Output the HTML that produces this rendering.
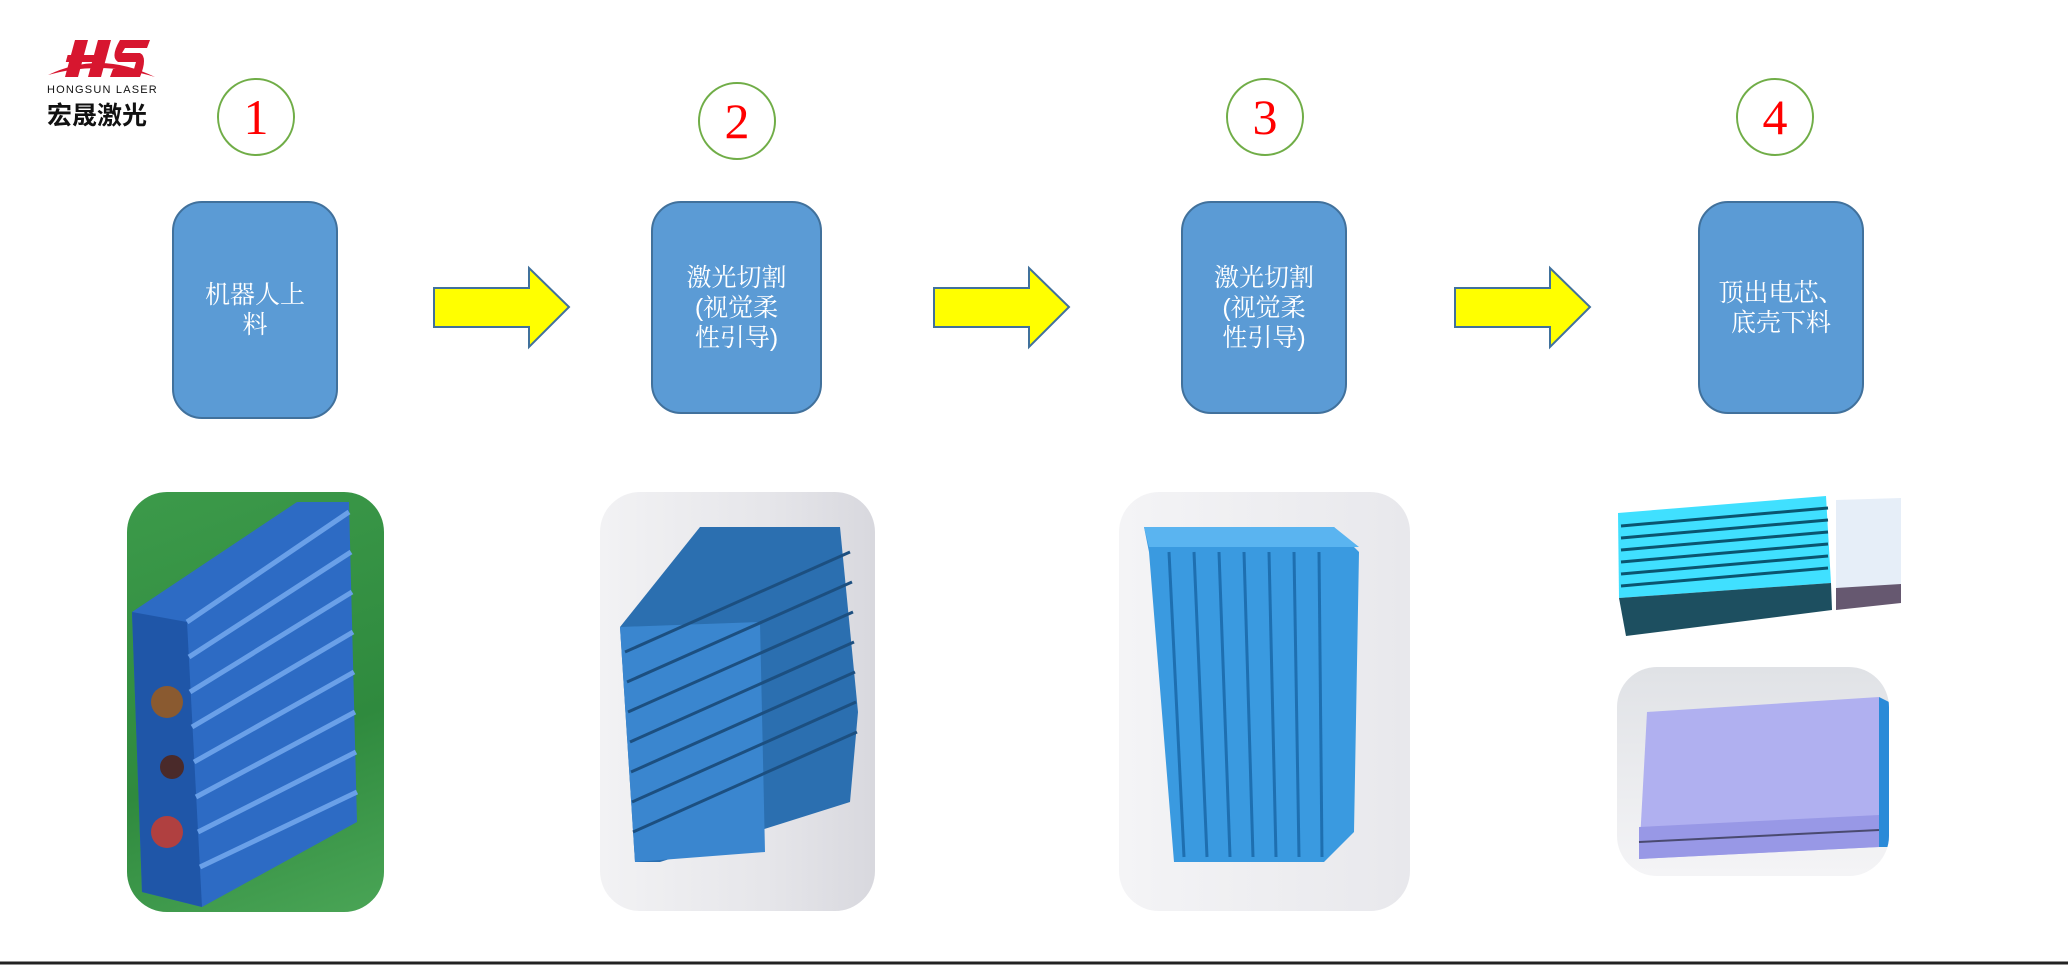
<!DOCTYPE html>
<html><head><meta charset="utf-8"><style>
body{margin:0;width:2068px;height:965px;background:#fff;position:relative;overflow:hidden;font-family:"Liberation Sans","Noto Sans CJK SC",sans-serif}
.c{position:absolute;width:74px;height:74px;border:2px solid #70ad47;border-radius:50%;color:#f00;font-family:"Liberation Serif",serif;font-size:50px;line-height:74px;text-align:center}
.b{position:absolute;background:#5b9bd5;border:2px solid #41719c;border-radius:30px;color:#fff;font-family:"Liberation Sans","Noto Serif CJK SC",serif;font-size:25px;line-height:30px;display:flex;align-items:center;justify-content:center;text-align:center;box-sizing:border-box}
svg{position:absolute}
.img{position:absolute;border-radius:40px;overflow:hidden}
</style></head><body>
<svg style="left:40px;top:35px" width="130" height="100">
<path d="M8 40 Q60 15 115 42 Q60 25 8 40Z" fill="#d7162f"/>
<polygon points="35,5 48,5 38,42 25,42" fill="#d7162f"/>
<polygon points="58,5 71,5 61,42 48,42" fill="#d7162f"/>
<rect x="33" y="20" width="30" height="7" fill="#d7162f" transform="skewX(-15)"/>
<path d="M80 5 H110 L107 13 H85 L82 18 H100 Q108 22 100 42 H70 L73 34 H94 L96 27 H78 Q70 22 80 5Z" fill="#d7162f"/>
<text x="7" y="58" font-size="11" font-family="Liberation Sans" letter-spacing="1.2" fill="#111">HONGSUN LASER</text>
<text x="7" y="89" font-size="25" font-weight="bold" font-family="Noto Sans CJK SC,sans-serif" fill="#111">宏晟激光</text>
</svg>
<div class="c" style="left:217px;top:78px">1</div>
<div class="c" style="left:698px;top:82px">2</div>
<div class="c" style="left:1226px;top:78px">3</div>
<div class="c" style="left:1736px;top:78px">4</div>
<div class="b" style="left:172px;top:201px;width:166px;height:218px">机器人上<br>料</div>
<div class="b" style="left:651px;top:201px;width:171px;height:213px">激光切割<br>(视觉柔<br>性引导)</div>
<div class="b" style="left:1181px;top:201px;width:166px;height:213px">激光切割<br>(视觉柔<br>性引导)</div>
<div class="b" style="left:1698px;top:201px;width:166px;height:213px">顶出电芯、<br>底壳下料</div>
<svg style="left:0;top:0" width="2068" height="965">
<g fill="#ffff00" stroke="#41719c" stroke-width="2">
<polygon points="434,288 529,288 529,268 569,307 529,347 529,327 434,327"/>
<polygon points="934,288 1029,288 1029,268 1069,307 1029,347 1029,327 934,327"/>
<polygon points="1455,288 1550,288 1550,268 1590,307 1550,347 1550,327 1455,327"/>
</g>
<line x1="0" y1="963" x2="2068" y2="963" stroke="#222" stroke-width="3"/>
</svg>
<div class="img" style="left:127px;top:492px;width:257px;height:420px;background:linear-gradient(160deg,#3c9a4a,#2f8a3e 60%,#4aa556)">
<svg width="257" height="420"><polygon points="5,120 170,10 222,10 230,330 75,415 15,400" fill="#2d6bc4"/><polygon points="5,120 60,130 75,415 15,400" fill="#1f56a8"/><g stroke="#6aa0e8" stroke-width="5">
<line x1="60" y1="130" x2="222" y2="20"/><line x1="62" y1="165" x2="224" y2="60"/><line x1="63" y1="200" x2="225" y2="100"/><line x1="65" y1="235" x2="226" y2="140"/><line x1="67" y1="270" x2="227" y2="180"/><line x1="69" y1="305" x2="228" y2="220"/><line x1="71" y1="340" x2="229" y2="260"/><line x1="73" y1="375" x2="230" y2="300"/></g>
<circle cx="40" cy="210" r="16" fill="#8a5a30"/><circle cx="40" cy="340" r="16" fill="#b04040"/><circle cx="45" cy="275" r="12" fill="#4a2a2a"/></svg></div>
<div class="img" style="left:600px;top:492px;width:275px;height:419px;background:linear-gradient(90deg,#f2f2f4,#e6e6ea 60%,#d8d8de)">
<svg width="275" height="419"><polygon points="20,135 100,35 240,35 258,220 250,310 60,370 35,370" fill="#2b6fb0"/><polygon points="20,135 160,130 165,360 35,370" fill="#3a86cf"/><g stroke="#1c4f80" stroke-width="3">
<line x1="25" y1="160" x2="250" y2="60"/><line x1="27" y1="190" x2="252" y2="90"/><line x1="28" y1="220" x2="253" y2="120"/><line x1="30" y1="250" x2="254" y2="150"/><line x1="31" y1="280" x2="255" y2="180"/><line x1="32" y1="310" x2="256" y2="210"/><line x1="33" y1="340" x2="257" y2="240"/></g></svg></div>
<div class="img" style="left:1119px;top:492px;width:291px;height:419px;background:linear-gradient(90deg,#f4f4f6,#e8e8ec)">
<svg width="291" height="419"><polygon points="25,35 215,35 240,60 235,340 205,370 55,370 30,60" fill="#3a9ae0"/><polygon points="25,35 215,35 240,55 30,55" fill="#5ab4f0"/><g stroke="#1e6fb0" stroke-width="3">
<line x1="50" y1="60" x2="65" y2="365"/><line x1="75" y1="60" x2="88" y2="365"/><line x1="100" y1="60" x2="111" y2="365"/><line x1="125" y1="60" x2="134" y2="365"/><line x1="150" y1="60" x2="157" y2="365"/><line x1="175" y1="60" x2="180" y2="365"/><line x1="200" y1="60" x2="203" y2="365"/></g></svg></div>
<svg style="left:1616px;top:488px" width="290" height="150">
<polygon points="220,12 285,10 285,112 220,116" fill="#e6eef8"/><polygon points="220,100 285,96 285,115 220,122" fill="#665870"/>
<polygon points="2,25 210,8 215,95 3,110" fill="#40e0ff"/>
<g stroke="#0a5570" stroke-width="3"><line x1="5" y1="38" x2="212" y2="20"/><line x1="5" y1="50" x2="212" y2="32"/><line x1="5" y1="62" x2="212" y2="44"/><line x1="5" y1="74" x2="212" y2="56"/><line x1="5" y1="86" x2="212" y2="68"/><line x1="5" y1="98" x2="212" y2="80"/></g>
<polygon points="3,110 215,95 216,122 10,148" fill="#1d4f60"/>
</svg>
<div class="img" style="left:1617px;top:667px;width:272px;height:209px;background:linear-gradient(180deg,#e0e2e6,#f4f4f6)">
<svg width="272" height="209"><polygon points="30,45 262,30 262,180 22,192" fill="#b0b0f0"/><polygon points="22,160 262,148 262,180 22,192" fill="#9898e6"/><line x1="22" y1="175" x2="262" y2="163" stroke="#4a4a70" stroke-width="2"/><polygon points="262,30 272,35 272,180 262,180" fill="#2a8ad8"/></svg></div>
</body></html>
